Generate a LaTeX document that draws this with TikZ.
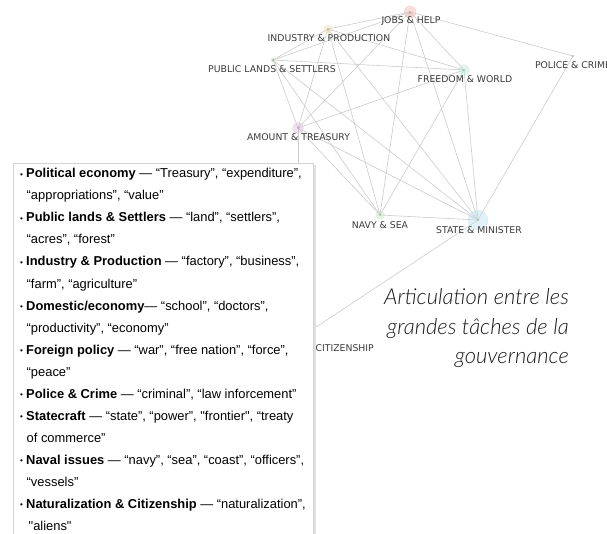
\documentclass[tikz,border=0pt]{standalone}
\usepackage{fontspec}
\setmainfont{Liberation Sans}
% plain family: keeps typed straight quotes straight
\newfontfamily\boxfont{Liberation Sans}
\newfontfamily\dejavu{DejaVu Sans}
\newfontfamily\titlefont{Lato}[UprightFont=* Light, ItalicFont=* Light Italic]
\definecolor{edgegray}{HTML}{CBCBCB}
\definecolor{labelgray}{HTML}{3A3A3A}
\definecolor{jobsc}{HTML}{F2B6B6}
\definecolor{indc}{HTML}{F5DDB8}
\definecolor{pubc}{HTML}{BFE3BF}
\definecolor{freec}{HTML}{BFE6D8}
\definecolor{amtc}{HTML}{DDBFE0}
\definecolor{navyc}{HTML}{C3E6BC}
\definecolor{statec}{HTML}{BFDFF0}
\definecolor{boxline}{HTML}{D2D2D2}
\tikzset{
  edge/.style={draw=edgegray, line width=0.6pt},
  lbl/.style={font=\dejavu\fontsize{9.3}{10}\selectfont, text=labelgray, inner sep=0pt},
  bubble/.style={fill opacity=0.45, draw opacity=0.6, line width=0.3pt},
  hub/.style={fill=black!65},
  txt/.style={anchor=base west, inner sep=0pt, font=\boxfont\fontsize{12.9}{14}\selectfont},
  ttl/.style={anchor=base east, inner sep=0pt, font=\titlefont\itshape\fontsize{22}{24}\selectfont, text=black!90},
}
\begin{document}
\begin{tikzpicture}[x=1pt,y=-1pt]
\useasboundingbox (0,0) rectangle (607,534);
\clip (0,0) rectangle (607,534);
% topic positions
\coordinate (J) at (410,12);
\coordinate (I) at (328,29);
\coordinate (P) at (273,60);
\coordinate (F) at (464,70);
\coordinate (C) at (573,56);
\coordinate (A) at (298,128);
\coordinate (N) at (380,215);
\coordinate (S) at (478,220);
\coordinate (Z) at (298,339);
% co-occurrence links
\foreach \u/\v in {J/I,J/P,J/C,J/A,J/F,J/N,J/S,
                   I/P,I/F,I/A,I/N,I/S,
                   P/F,P/A,P/N,P/S,
                   F/A,F/N,F/S,
                   C/S,
                   A/N,A/S,A/Z,
                   N/S,S/Z}
  \draw[edge] (\u) -- (\v);
% topic bubbles
\filldraw[bubble, fill=jobsc, draw=jobsc] (J) circle (6);
\filldraw[bubble, fill=indc, draw=indc] (I) circle (4.2);
\filldraw[bubble, fill=pubc, draw=pubc] (P) circle (2);
\filldraw[bubble, fill=freec, draw=freec] (F) circle (5.5);
\filldraw[bubble, fill=amtc, draw=amtc] (A) circle (5.5);
\filldraw[bubble, fill=navyc, draw=navyc] (N) circle (4.2);
\filldraw[bubble, fill=statec, draw=statec] (S) circle (10);
\foreach \p in {J,I,P,F,C,A,N,S}
  \fill[hub] (\p) circle (0.7);
% topic labels
\node[lbl] (Jl) at (411,21) {JOBS \& HELP};
\node[lbl] (Il) at (329,38) {INDUSTRY \& PRODUCTION};
\node[lbl] (Pl) at (272,69) {PUBLIC LANDS \& SETTLERS};
\node[lbl] (Fl) at (465,79.5) {FREEDOM \& WORLD};
\node[lbl] (Cl) at (573,65) {POLICE \& CRIME};
\node[lbl] (Al) at (298.5,137.5) {AMOUNT \& TREASURY};
\node[lbl] (Nl) at (380,225) {NAVY \& SEA};
\node[lbl] (Sl) at (479,230) {STATE \& MINISTER};
\node[lbl, anchor=west] (Zl) at (315.5,348) {CITIZENSHIP};
% legend panel
\fill[black!12] (313,165) rectangle (315.5,540);
\filldraw[fill=white, draw=boxline, line width=0.6pt] (13,163) rectangle (313,540);
\newcommand\bl[1]{\makebox[6pt][l]{\raisebox{0.2pt}{\footnotesize\textbullet}}#1}
\newcommand\cl[1]{\hspace*{6.5pt}#1}
\node[txt] (l1)  at (20,178) {\bl{\textbf{Political economy} — “Treasury”, “expenditure”,}};
\node[txt] (l2)  at (20,200) {\cl{“appropriations”, “value”}};
\node[txt] (l3)  at (20,222) {\bl{\textbf{Public lands \& Settlers} — “land”, “settlers”,}};
\node[txt] (l4)  at (20,244) {\cl{“acres”, “forest”}};
\node[txt] (l5)  at (20,266) {\bl{\textbf{Industry \& Production} — “factory”, “business”,}};
\node[txt] (l6)  at (20,288) {\cl{“farm”, “agriculture”}};
\node[txt] (l7)  at (20,310) {\bl{\textbf{Domestic/economy}— “school”, “doctors”,}};
\node[txt] (l8)  at (20,332) {\cl{“productivity”, “economy”}};
\node[txt] (l9)  at (20,354) {\bl{\textbf{Foreign policy} — “war”, “free nation”, “force”,}};
\node[txt] (l10) at (20,376) {\cl{“peace”}};
\node[txt] (l11) at (20,398) {\bl{\textbf{Police \& Crime} — “criminal”, “law inforcement”}};
\node[txt] (l12) at (20,420) {\bl{\textbf{Statecraft} — “state”, “power”, "frontier", “treaty}};
\node[txt] (l13) at (20,442) {\cl{of commerce”}};
\node[txt] (l14) at (20,464) {\bl{\textbf{Naval issues} — “navy”, “sea”, “coast”, “officers”,}};
\node[txt] (l15) at (20,486) {\cl{“vessels”}};
\node[txt] (l16) at (20,508) {\bl{\textbf{Naturalization \& Citizenship} — “naturalization”,}};
\node[txt] (l17) at (22,530) {\cl{"aliens"}};
% title
\node[ttl] (t1) at (569,305) {Articulation entre les};
\node[ttl] (t2) at (569,334) {grandes tâches de la};
\node[ttl] (t3) at (569,363) {gouvernance};
\end{tikzpicture}
\end{document}
